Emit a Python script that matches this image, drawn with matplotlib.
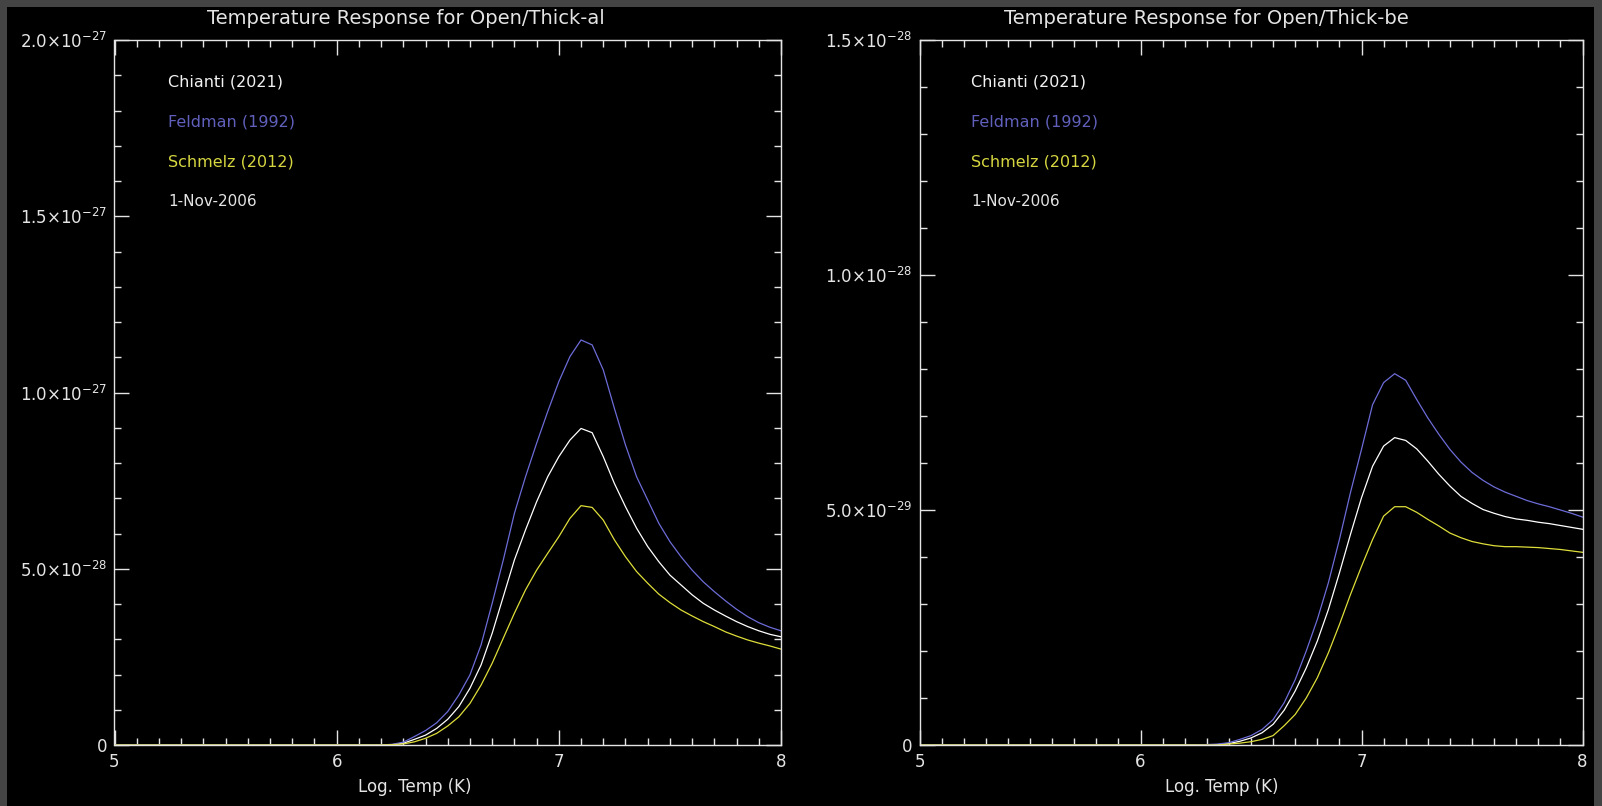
# -*- coding: utf-8 -*-
"""
Temperature response curves, two filters, IDL-style black plot
"""
import matplotlib
matplotlib.use('Agg')
import matplotlib.pyplot as plt
from matplotlib.ticker import MultipleLocator, FixedLocator, FixedFormatter
from matplotlib.patches import Rectangle

# log temperature grid (flat zero below 6.2)
log_t = [5.00, 6.20, 6.25, 6.30, 6.35, 6.40, 6.45, 6.50, 6.55, 6.60, 6.65,
         6.70, 6.75, 6.80, 6.85, 6.90, 6.95, 7.00, 7.05, 7.10, 7.15, 7.20,
         7.25, 7.30, 7.35, 7.40, 7.45, 7.50, 7.55, 7.60, 7.65, 7.70, 7.75,
         7.80, 7.85, 7.90, 7.95, 8.00]

# Open/Thick-al, units of 1e-28
chianti_al = [0, 0, 0.01, 0.05, 0.16, 0.28, 0.47, 0.73, 1.09, 1.61, 2.27,
              3.17, 4.21, 5.25, 6.10, 6.90, 7.61, 8.18, 8.65, 8.98, 8.86, 8.18,
              7.42, 6.76, 6.15, 5.63, 5.20, 4.82, 4.54, 4.26, 4.02, 3.83, 3.66,
              3.50, 3.36, 3.24, 3.14, 3.07]
feldman_al = [0, 0, 0.02, 0.08, 0.24, 0.41, 0.63, 0.95, 1.42, 1.99, 2.84,
              4.02, 5.25, 6.57, 7.61, 8.56, 9.46, 10.31, 11.02, 11.49, 11.35, 10.64,
              9.55, 8.51, 7.61, 6.95, 6.29, 5.77, 5.34, 4.96, 4.63, 4.35, 4.09,
              3.85, 3.64, 3.47, 3.34, 3.24]
schmelz_al = [0, 0, 0.01, 0.03, 0.09, 0.19, 0.33, 0.54, 0.80, 1.18, 1.70,
              2.32, 3.03, 3.74, 4.40, 4.96, 5.44, 5.91, 6.43, 6.79, 6.74, 6.38,
              5.82, 5.34, 4.92, 4.59, 4.28, 4.04, 3.83, 3.66, 3.50, 3.36, 3.21,
              3.09, 2.98, 2.89, 2.81, 2.72]

# Open/Thick-be, units of 1e-29
chianti_be = [0, 0, 0, 0, 0.01, 0.03, 0.08, 0.15, 0.26, 0.44, 0.74,
              1.15, 1.64, 2.21, 2.88, 3.66, 4.48, 5.26, 5.93, 6.36, 6.54, 6.48,
              6.30, 6.04, 5.76, 5.51, 5.29, 5.14, 5.01, 4.93, 4.86, 4.81, 4.78,
              4.74, 4.71, 4.67, 4.63, 4.59]
feldman_be = [0, 0, 0, 0.01, 0.02, 0.05, 0.12, 0.20, 0.33, 0.54, 0.90,
              1.39, 2.00, 2.67, 3.45, 4.37, 5.37, 6.29, 7.24, 7.71, 7.90, 7.76,
              7.35, 6.96, 6.61, 6.29, 6.02, 5.80, 5.63, 5.49, 5.38, 5.29, 5.20,
              5.13, 5.07, 5.00, 4.93, 4.85]
schmelz_be = [0, 0, 0, 0, 0, 0.02, 0.04, 0.07, 0.12, 0.20, 0.41,
              0.65, 1.00, 1.43, 1.96, 2.56, 3.20, 3.80, 4.37, 4.87, 5.07, 5.07,
              4.95, 4.80, 4.66, 4.51, 4.41, 4.33, 4.28, 4.24, 4.22, 4.22, 4.21,
              4.20, 4.18, 4.16, 4.13, 4.10]

legend_labels = ['Chianti (2021)', 'Feldman (1992)', 'Schmelz (2012)']
date_label = '1-Nov-2006'

FG = '#e4e4e4'
C_WHITE = '#ffffff'
C_BLUE = '#6c6cd8'
C_YELLOW = '#dede3a'
C_TEXT = ['#f2f2f2', '#6060bc', '#d6d640']

fig = plt.figure(figsize=(16.02, 8.06), dpi=100, facecolor='#444444')
# black drawing area inside the grey frame
fig.patches.append(Rectangle((7 / 1602, 0), (1594 - 7) / 1602, (806 - 7) / 806,
                             transform=fig.transFigure, facecolor='black',
                             edgecolor='none', zorder=-1))

panels = [
    dict(rect=[114.5 / 1602, 61 / 806, 666.5 / 1602, 705 / 806],
         scale=1e-28, series=(chianti_al, feldman_al, schmelz_al),
         ymax=2.0e-27, yminor=1e-28,
         yticks=[0, 5e-28, 1e-27, 1.5e-27, 2e-27],
         ylabels=['0', r'5.0$\times$10$^{-28}$', r'1.0$\times$10$^{-27}$',
                  r'1.5$\times$10$^{-27}$', r'2.0$\times$10$^{-27}$'],
         title='Temperature Response for Open/Thick-al',
         title_x=406, xlab_x=415, leg_x=168),
    dict(rect=[919.5 / 1602, 61 / 806, 663 / 1602, 705 / 806],
         scale=1e-29, series=(chianti_be, feldman_be, schmelz_be),
         ymax=1.5e-28, yminor=1e-29,
         yticks=[0, 5e-29, 1e-28, 1.5e-28],
         ylabels=['0', r'5.0$\times$10$^{-29}$', r'1.0$\times$10$^{-28}$',
                  r'1.5$\times$10$^{-28}$'],
         title='Temperature Response for Open/Thick-be',
         title_x=1206, xlab_x=1222, leg_x=971),
]

for p in panels:
    ax = fig.add_axes(p['rect'])
    ax.set_facecolor('black')
    s = p['scale']
    white, blue, yellow = p['series']
    ax.plot(log_t, [v * s for v in white], color=C_WHITE, lw=0.9)
    ax.plot(log_t, [v * s for v in blue], color=C_BLUE, lw=0.9)
    ax.plot(log_t, [v * s for v in yellow], color=C_YELLOW, lw=0.9)

    ax.set_xlim(5, 8)
    ax.set_ylim(0, p['ymax'])
    ax.xaxis.set_major_locator(MultipleLocator(1))
    ax.xaxis.set_minor_locator(MultipleLocator(0.1))
    ax.yaxis.set_major_locator(FixedLocator(p['yticks']))
    ax.yaxis.set_major_formatter(FixedFormatter(p['ylabels']))
    ax.yaxis.set_minor_locator(MultipleLocator(p['yminor']))

    for sp in ax.spines.values():
        sp.set_color(FG)
        sp.set_linewidth(1.0)
    ax.tick_params(which='both', direction='in', top=True, right=True,
                   color=FG, labelcolor=FG, width=1.0, labelsize=12)
    ax.tick_params(which='major', length=11)
    ax.tick_params(which='minor', length=5)
    ax.tick_params(axis='x', pad=6)
    ax.tick_params(axis='y', pad=5)

    fig.text(p['title_x'] / 1602, 1 - 19 / 806, p['title'], color=FG,
             fontsize=14, ha='center', va='center')
    fig.text(p['xlab_x'] / 1602, 1 - 787 / 806, 'Log. Temp (K)', color=FG,
             fontsize=12, ha='center', va='center')

    for i, (lab, c) in enumerate(zip(legend_labels, C_TEXT)):
        fig.text(p['leg_x'] / 1602, 1 - (82 + 40 * i) / 806, lab, color=c,
                 fontsize=11.5, ha='left', va='center')
    fig.text(p['leg_x'] / 1602, 1 - 201 / 806, date_label, color=FG,
             fontsize=11, ha='left', va='center')

fig.savefig('out.png', dpi=100, facecolor=fig.get_facecolor())
